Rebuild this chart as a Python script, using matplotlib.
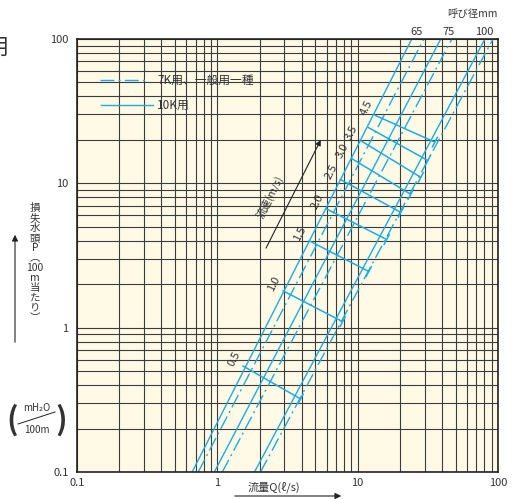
import matplotlib
matplotlib.use("Agg")
import matplotlib.pyplot as plt
from matplotlib.lines import Line2D
from matplotlib.ticker import LogLocator, NullFormatter
import numpy as np

plt.rcParams['font.family'] = ['Noto Sans CJK JP', 'DejaVu Sans']

W, H = 515, 499

# 呼び径ごとの流量 Q (P=0.1 と P=100 の位置で読み取り)
sizes = ['65', '75', '100']
q_10k_low = [0.662, 0.952, 1.84]
q_10k_high = [24.3, 39.1, 80.7]
q_7k_low = [0.731, 1.086, 2.03]
q_7k_high = [29.6, 46.9, 92.1]
p_low, p_high = 0.1, 100

# 流速線 (左端と右端の Q, P)
velocities = [0.5, 1.0, 1.5, 2.0, 2.5, 3.0, 3.5, 4.0, 4.5]
vel_labels = ['0.5', '1.0', '1.5', '2.0', '2.5', '3.0', '3.5', '', '4.5']
bar_q_left = [1.51, 2.91, 4.47, 5.91, 7.44, 8.91, 10.3, 11.8, 13.2]
bar_p_left = [0.545, 1.81, 4.02, 6.70, 10.7, 15.0, 20.0, 24.5, 29.7]
bar_q_right = [3.92, 7.81, 12.0, 16.1, 20.3, 23.9, 28.2, 31.6, 35.5]
bar_p_right = [0.321, 1.10, 2.45, 4.08, 6.29, 8.39, 11.0, 14.4, 19.3]

x_ticks = [0.1, 1, 10, 100]
y_ticks = [0.1, 1, 10, 100]

BLUE = '#1eaae2'
TXT = '#333333'
DASHDOT = (10, 3, 1.5, 3)

fig = plt.figure(figsize=(W / 100, H / 100), dpi=100)
ax = fig.add_axes([77 / W, 1 - 472 / H, (498 - 77) / W, (472 - 39) / H])
ax.set_xscale('log')
ax.set_yscale('log')
ax.set_xlim(0.1, 100)
ax.set_ylim(0.1, 100)
ax.set_facecolor('#fefae6')

# グリッド
ax.xaxis.set_minor_locator(LogLocator(base=10, subs=range(2, 10)))
ax.yaxis.set_minor_locator(LogLocator(base=10, subs=range(2, 10)))
ax.xaxis.set_minor_formatter(NullFormatter())
ax.yaxis.set_minor_formatter(NullFormatter())
ax.set_xticks(x_ticks)
ax.set_xticklabels(['0.1', '1', '10', '100'])
ax.set_yticks(y_ticks)
ax.set_yticklabels(['0.1', '1', '10', '100'])
ax.tick_params(which='both', length=0, labelsize=8, labelcolor=TXT)
ax.tick_params(axis='x', pad=4)
ax.tick_params(axis='y', pad=6)
ax.grid(which='both', color='#3c3c3c', lw=0.8)
ax.set_axisbelow(True)
for s in ax.spines.values():
    s.set_linewidth(1.2)
    s.set_color('#222222')

# 管の線
for i in range(len(sizes)):
    ax.plot([q_10k_low[i], q_10k_high[i]], [p_low, p_high], color=BLUE, lw=1.0)
    ax.plot([q_7k_low[i], q_7k_high[i]], [p_low, p_high], color=BLUE, lw=1.0,
            dashes=DASHDOT)

# 流速線
for i, v in enumerate(velocities):
    ax.plot([bar_q_left[i], bar_q_right[i]], [bar_p_left[i], bar_p_right[i]],
            color=BLUE, lw=1.1, solid_capstyle='butt')
    qr, pr = bar_q_right[i], bar_p_right[i]
    ax.plot([qr * 10 ** -0.018, qr * 10 ** 0.018], [pr * 10 ** -0.033, pr * 10 ** 0.033],
            color=BLUE, lw=1.1)
    if vel_labels[i]:
        ax.annotate(vel_labels[i], (bar_q_left[i], bar_p_left[i]), xytext=(-6, 5),
                    textcoords='offset points', rotation=63, ha='center', va='center',
                    fontsize=8, color=TXT, rotation_mode='anchor')

# 流速の矢印
ax.annotate('', xy=(0.579, 0.767), xytext=(0.449, 0.517), xycoords='axes fraction',
            arrowprops=dict(arrowstyle='-|>', color='#222222', lw=0.8,
                            mutation_scale=8, shrinkA=0, shrinkB=0))
ax.text(0.458, 0.636, '流速(m/s)', transform=ax.transAxes, rotation=63,
        ha='center', va='center', fontsize=7.5, color=TXT, rotation_mode='anchor')


def fx(x):
    return x / W


def fy(y):
    return 1 - y / H


# 凡例
fig.add_artist(Line2D([fx(100), fx(148)], [fy(80), fy(80)], color=BLUE, lw=1.0,
                      dashes=DASHDOT, transform=fig.transFigure))
fig.add_artist(Line2D([fx(101), fx(153)], [fy(105), fy(105)], color=BLUE, lw=1.0,
                      transform=fig.transFigure))
fig.text(fx(157), fy(80), '7K用、一般用一種', fontsize=8.5, color=TXT, va='center')
fig.text(fx(157), fy(105), '10K用', fontsize=8.5, color=TXT, va='center')

# 呼び径
fig.text(fx(472), fy(14), '呼び径mm', fontsize=7.5, color=TXT, ha='center', va='center')
for name, xp in zip(sizes, [417, 449, 484]):
    fig.text(fx(xp), fy(32), name, fontsize=8, color=TXT, ha='center', va='center')

# タイトルの切れ端
fig.text(fx(9), fy(47), '用', fontsize=16, color=TXT, ha='right', va='center')

# 縦軸ラベル
ylab = '\n'.join(['損', '失', '水', '頭', 'P', '︵', '100', 'm', '当', 'た', 'り', '︶'])
fig.text(fx(35), fy(263), ylab, fontsize=7.5, color=TXT, ha='center', va='center',
         linespacing=1.0)
fig.add_artist(matplotlib.patches.FancyArrowPatch(
    (fx(15), fy(345)), (fx(15), fy(232)), transform=fig.transFigure,
    arrowstyle='-|>', mutation_scale=9, color='#222222', lw=0.8))

# 単位
fig.text(fx(12), fy(420), '(', fontsize=22, color=TXT, ha='center', va='center',
         fontweight='bold')
fig.text(fx(61), fy(420), ')', fontsize=22, color=TXT, ha='center', va='center',
         fontweight='bold')
fig.text(fx(37), fy(408), 'mH₂O', fontsize=7, color=TXT, ha='center', va='center')
fig.text(fx(37), fy(430), '100m', fontsize=7, color=TXT, ha='center', va='center')
fig.add_artist(Line2D([fx(18), fx(55)], [fy(424), fy(412)], color='#222222', lw=0.7,
                      transform=fig.transFigure))

# 横軸ラベル
fig.text(fx(274), fy(487), '流量Q(ℓ/s)', fontsize=8, color=TXT, ha='center', va='center')
fig.add_artist(matplotlib.patches.FancyArrowPatch(
    (fx(232), fy(496)), (fx(344), fy(496)), transform=fig.transFigure,
    arrowstyle='-|>', mutation_scale=9, color='#222222', lw=0.8))

fig.savefig('out.png', dpi=100)
